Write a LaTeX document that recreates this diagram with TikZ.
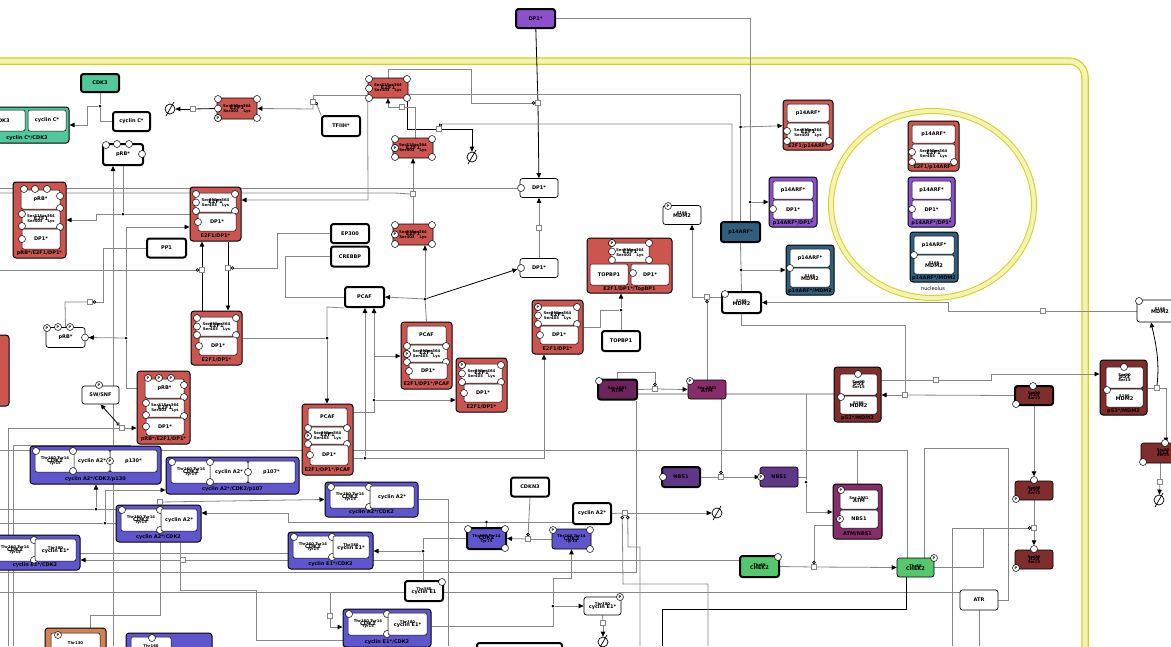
\documentclass[tikz,border=0pt]{standalone}
\usepackage{fontspec}
\setmainfont{DejaVu Sans}
\usetikzlibrary{arrows.meta}
\pgfdeclarelayer{comp}
\pgfdeclarelayer{bg}
\pgfsetlayers{comp,bg,main}
\definecolor{cred}{RGB}{205,85,80}
\definecolor{cgreen}{RGB}{80,200,155}
\definecolor{cpurple}{RGB}{140,80,205}
\definecolor{cblue}{RGB}{48,95,125}
\definecolor{cp53}{RGB}{128,45,45}
\definecolor{catm}{RGB}{135,45,105}
\definecolor{catmd}{RGB}{110,35,90}
\definecolor{cnbs}{RGB}{95,55,135}
\definecolor{ccyc}{RGB}{95,85,205}
\definecolor{cchek}{RGB}{85,200,110}
\definecolor{corange}{RGB}{210,130,85}
\definecolor{ydark}{RGB}{215,210,30}
\definecolor{ylight}{RGB}{245,243,180}
\definecolor{lgray}{RGB}{135,135,135}
\tikzset{
 every node/.style={font={\fontsize{5}{6}\selectfont\bfseries}},
 cplx/.style={draw=black, line width=1pt, rounded corners=3pt, inner sep=0pt},
 ibox/.style={draw=black, line width=0.5pt, fill=white, rounded corners=2pt, inner sep=0pt},
 mol/.style={draw=black, line width=0.7pt, fill=white, rounded corners=2.5pt, inner sep=0pt},
 molk/.style={mol, line width=2pt},
 sv/.style={circle, draw=black, line width=0.5pt, fill=white, minimum size=7pt, inner sep=0pt, font={\fontsize{3.5}{3.5}\selectfont\bfseries}},
 clab/.style={inner sep=0pt},
 proc/.style={draw=lgray, fill=white, minimum size=5pt, inner sep=0pt, line width=0.5pt},
 adot/.style={circle, fill=black, minimum size=3pt, inner sep=0pt},
 esym/.style={circle, draw=black, line width=0.7pt, minimum size=10pt, inner sep=0pt},
 ln/.style={draw=lgray, line width=0.8pt},
 lnk/.style={draw=black, line width=0.8pt},
 ar/.style={-{Triangle[length=5pt,width=4.5pt,color=black]}},
 cat/.style={-{Circle[open,length=3.5pt,width=3.5pt,color=black]}},
 swarr/.style={{Triangle[length=5pt,width=4.5pt]}-{Circle[open,length=3.5pt,width=3.5pt]}},
}
\newcommand{\Ttiny}[3]{\begin{tabular}{@{}c@{}}{\fontsize{3.8}{3.8}\selectfont #1}\\[-3.4pt]{\fontsize{5.2}{5.2}\selectfont #2}\\[-3.4pt]{\fontsize{3.8}{3.8}\selectfont #3}\end{tabular}}
\newcommand{\Ttwo}[2]{\begin{tabular}{@{}c@{}}{\fontsize{3.8}{3.8}\selectfont #1}\\[-3pt]{\fontsize{5}{5}\selectfont #2}\end{tabular}}
\newcommand{\Etext}{\Ttiny{Ser31Ser364}{E2F1}{Ser403\hspace{5pt}Lys}}
\newcommand{\Cx}[6]{\node[cplx, fill=#6, minimum width={(#4)-(#2)}, minimum height={(#5)-(#3)}] (#1) at ({((#2)+(#4))/2},{((#3)+(#5))/2}) {};}
\newcommand{\Bx}[6]{\node[ibox, minimum width={(#4)-(#2)}, minimum height={(#5)-(#3)}] (#1) at ({((#2)+(#4))/2},{((#3)+(#5))/2}) {#6};}
\newcommand{\SV}[3]{\node[sv] (#1) at ({#2},{#3}) {};}
\newcommand{\PV}[3]{\node[sv] (#1) at ({#2},{#3}) {P};}
\newcommand{\Lb}[4]{\node[clab] (#1) at ({#2},{#3}) {#4};}
\newcommand{\EmptyS}[3]{\node[esym] (#1) at (#2,#3) {};
 \draw[line width=0.7pt] ([shift={(-4,7)}]#1.center) -- ([shift={(4,-7)}]#1.center);}
\newcommand{\Ecirc}[5]{\SV{#1-a}{#2}{#3}\SV{#1-b}{#4}{#3}\SV{#1-c}{#2}{((#3)+(#5))/2}\SV{#1-d}{#2}{#5}\SV{#1-e}{#4}{#5}}
\newcommand{\EDC}[3]{%
 \Cx{#1}{#2}{#3}{#2+51}{#3+54}{cred}
 \Bx{#1e}{#2+5}{#3+6}{#2+46}{#3+25}{\Etext}
 \Ecirc{#1e}{#2+6}{#3+7}{#2+45}{#3+24}
 \Bx{#1d}{#2+8}{#3+26}{#2+46}{#3+44}{DP1*}
 \SV{#1ds}{#2+8}{#3+35}
 \Lb{#1l}{#2+25.5}{#3+49}{E2F1/DP1*}}
\newcommand{\EPC}[4]{%
 \Cx{#1}{#2}{#3}{#2+51}{#3+#4}{cred}
 \Bx{#1p}{#2+6}{#3+4}{#2+45}{#3+22}{PCAF}
 \Bx{#1e}{#2+5}{#3+23}{#2+46}{#3+40}{\Etext}
 \Ecirc{#1e}{#2+6}{#3+24}{#2+45}{#3+40}
 \PV{#1ep}{#2+6}{#3+32}
 \Bx{#1d}{#2+8}{#3+41}{#2+46}{#3+#4-10}{DP1*}
 \SV{#1ds}{#2+8}{#3+(#4+31)/2}
 \Lb{#1l}{#2+25.5}{#3+#4-5}{E2F1/DP1*/PCAF}}
\newcommand{\PEC}[5]{%
 \Cx{#1}{#2}{#3}{#2+53}{#3+#4}{cred}
 \Bx{#1r}{#2+8}{#3+8}{#2+47}{#3+27}{pRB*}
 \node[sv] (#1s1) at ({#2+11},{#3+7}) {#5};
 \node[sv] (#1s2) at ({#2+22},{#3+7}) {#5};
 \node[sv] (#1s3) at ({#2+34},{#3+7}) {#5};
 \SV{#1s4}{#2+47}{#3+14}\SV{#1s5}{#2+47}{#3+26}
 \Bx{#1e}{#2+9}{#3+28}{#2+47}{#3+46}{\Etext}
 \SV{#1s6}{#2+9}{#3+32}\SV{#1s7}{#2+9}{#3+44}\SV{#1s8}{#2+47}{#3+45}
 \Bx{#1d}{#2+9}{#3+47}{#2+47}{#3+#4-9}{DP1*}
 \SV{#1ds}{#2+9}{#3+(#4+38)/2}
 \Lb{#1l}{#2+26.5}{#3+#4-4.5}{pRB*/E2F1/DP1*}}
\newcommand{\PKC}[7]{%
 \Cx{#1}{#2}{#3}{#2+#4}{#3+50}{#5}
 \Bx{#1a}{#2+4}{#3+4}{#2+#4-4}{#3+22}{p14ARF*}
 \Bx{#1b}{#2+4}{#3+23}{#2+#4-4}{#3+42}{#6}
 \Lb{#1l}{#2+#4/2}{#3+46.5}{#7}}
\newcommand{\QC}[3]{%
 \Cx{#1}{#2}{#3}{#2+47}{#3+55}{cp53}
 \Bx{#1a}{#2+6}{#3+7}{#2+43}{#3+28}{\Ttiny{Ser20}{p53}{Ser15}}
 \SV{#1as}{#2+24}{#3+7}
 \Bx{#1b}{#2+6}{#3+29}{#2+43}{#3+47}{\Ttwo{S166}{MDM2}}
 \SV{#1bs}{#2+7}{#3+30}
 \Lb{#1l}{#2+23.5}{#3+51}{p53*/MDM2}}
\newcommand{\CYC}[7]{%
 \Cx{#1}{#2}{#3}{#4}{#5}{ccyc}
 \Bx{#1k}{#2+5}{#3+4}{#2+45}{#3+26}{\Ttiny{Thr160 Tyr14}{CDK2}{Tyr15}}
 \SV{#1ka}{#2+6}{#3+5}\SV{#1kb}{#2+44}{#3+5}\SV{#1kc}{#2+44}{#3+25}
 \Bx{#1c}{#2+45}{#3+4}{#4-4}{#3+26}{#6}
 \Lb{#1l}{((#2)+(#4))/2}{#5-5}{#7}}
\begin{document}
\begin{tikzpicture}[x=1pt,y=-1pt]
\useasboundingbox (0,0) rectangle (1171,646);
\begin{pgfonlayer}{comp}
\fill[white] (0,0) rectangle (1171,646);
\draw[ydark, line width=7.5pt, rounded corners=16pt] (-40,61) -- (1085,61) -- (1085,700);
\draw[ylight, line width=5pt, rounded corners=16pt] (-40,61) -- (1085,61) -- (1085,700);
\draw[ydark, line width=6pt] (932.5,204.5) ellipse [x radius=101.5, y radius=93.5];
\draw[ylight, line width=4pt] (932.5,204.5) ellipse [x radius=101.5, y radius=93.5];
\end{pgfonlayer}

% ---------- top left ----------
\node[molk, fill=cpurple, minimum width=39, minimum height=19] (dptop) at (535.5,18.5) {DP1*};
\node[molk, fill=cgreen, minimum width=38, minimum height=18] (cdk3) at (100,83) {CDK3};
\node[molk, minimum width=37, minimum height=19] (cycc) at (131.5,121.5) {cyclin C*};
\Cx{ccc}{-25}{107}{69}{143}{cgreen}
\Bx{ccck}{-21}{110}{25}{131}{CDK3}
\Bx{cccc}{28}{110}{66}{131}{cyclin C*}
\Lb{cccl}{27}{138.5}{cyclin C*/CDK3}
\EmptyS{es1}{170}{109}
\node[mol, fill=cred, minimum width=40, minimum height=21] (e2a) at (237,108.5) {\Etext};
\Ecirc{e2a}{218}{99}{257}{118}
\PV{e2ap}{218}{118}
\node[molk, minimum width=38, minimum height=20] (tfiih) at (341,126) {TFIIH*};
\node[molk, minimum width=40, minimum height=21] (prbt) at (123,154.5) {pRB*};
\SV{prbt1}{106}{145}\SV{prbt2}{117}{144}\SV{prbt3}{129}{144}\SV{prbt4}{142}{154}
\node[mol, fill=cred, minimum width=40, minimum height=20] (e2b) at (388,88) {\Etext};
\Ecirc{e2b}{369}{79}{407}{98}
\node[mol, fill=cred, minimum width=40, minimum height=20] (e2c) at (413,148) {\Etext};
\Ecirc{e2c}{395}{139}{432}{157}
\PV{e2cp}{395}{148}
\EmptyS{es2}{472}{157}
\node[mol, fill=cred, minimum width=40, minimum height=21] (e2d) at (413,234.5) {\Etext};
\Ecirc{e2d}{395}{225}{432}{244}
\PV{e2dp}{395}{234.5}
\node[mol, minimum width=38, minimum height=19] (dp1a) at (539,188) {DP1*};
\SV{dp1as}{521}{188}
\node[mol, minimum width=38, minimum height=19] (dp1b) at (539,268) {DP1*};
\SV{dp1bs}{521}{268}
\node[molk, minimum width=38, minimum height=19] (ep300) at (350,233.5) {EP300};
\node[molk, minimum width=38, minimum height=20] (crebbp) at (350,256.5) {CREBBP};
\node[molk, minimum width=39, minimum height=19] (pp1) at (166.5,248) {PP1};
\PEC{cPRB1}{13}{182}{76}{}
\EDC{cED1}{190}{187}

% ---------- top right ----------
\node[mol, minimum width=38, minimum height=19] (mdm2p) at (682,215) {\Ttwo{S166}{MDM2}};
\PV{mdm2pp}{668}{206}
\node[molk, fill=cblue, minimum width=39, minimum height=20] (p14) at (740.5,232) {p14ARF*};
\Cx{cTop}{587}{238}{672}{293}{cred}
\Bx{cTope}{611}{243}{649}{262}{\Etext}
\Ecirc{cTope}{612}{243}{649}{260}
\PV{cTopp}{612}{243}
\Bx{cTopt}{590}{264}{628}{285}{TOPBP1}
\Bx{cTopd}{631}{264}{669}{285}{DP1*}
\SV{cTopds}{633}{273}
\Lb{cTopl}{629.5}{289}{E2F1/DP1*/TopBP1}
\node[molk, minimum width=38, minimum height=20] (topbp1) at (621,341) {TOPBP1};
\PKC{cE2p14a}{783}{100}{50}{cred}{\Etext}{E2F1/p14ARF*}
\SV{cE2p14as1}{787}{131}\SV{cE2p14as2}{787}{141}\SV{cE2p14as3}{829}{141}
\PKC{cp14DP1a}{769}{177}{48}{cpurple}{DP1*}{p14ARF*/DP1*}
\SV{cp14DP1as}{773}{209}
\PKC{cp14MDMa}{786}{245}{48}{cblue}{\Ttwo{S166}{MDM2}}{p14ARF*/MDM2}
\SV{cp14MDMas}{790}{268}
\PKC{cE2p14b}{908}{121}{51}{cred}{\Etext}{E2F1/p14ARF*}
\SV{cE2p14bs1}{912}{152}\SV{cE2p14bs2}{912}{162}\SV{cE2p14bs3}{954}{162}
\PKC{cp14DP1b}{908}{177}{47}{cpurple}{DP1*}{p14ARF*/DP1*}
\SV{cp14DP1bs}{912}{209}
\PKC{cp14MDMb}{910}{232}{48}{cblue}{\Ttwo{S166}{MDM2}}{p14ARF*/MDM2}
\SV{cp14MDMbs}{914}{255}
\node[clab, font={\fontsize{5}{6}\selectfont}] (nucl) at (933,289) {nucleolus};
\node[molk, minimum width=39, minimum height=21] (mdm2t) at (741.5,302.5) {\Ttwo{S166}{MDM2}};
\SV{mdm2ts}{725}{294}
\node[mol, minimum width=46, minimum height=22] (mdm2r) at (1160,311) {\Ttwo{S166}{MDM2}};
\SV{mdm2rs}{1139}{301}

% ---------- middle ----------
\node[molk, minimum width=39, minimum height=20] (pcaf) at (364.5,297) {PCAF};
\node[mol, minimum width=39, minimum height=20] (prbP) at (65.5,337.5) {pRB*};
\PV{prbP1}{47}{328}\PV{prbP2}{58}{327}\PV{prbP3}{70}{327}\SV{prbP4}{85}{337.5}
\EDC{cED2}{191}{311}
\EPC{cEDP1}{401}{322}{67}
\EDC{cED3}{456}{358}
\PV{cED3p}{462}{365}
\EDC{cED4}{532}{300}
\PV{cED4p}{538}{307}
\node[mol, minimum width=37, minimum height=18] (swsnf) at (100.5,395) {SW/SNF};
\PV{swsnfp}{99}{385}
\PEC{cPRB2}{137}{371}{73}{P}
\EPC{cEDP2}{302}{404}{71}
\Cx{redl}{-20}{335}{9}{406}{cred}
\node[molk, fill=catmd, minimum width=39, minimum height=20] (atmL) at (617.5,389.5) {\Ttwo{Ser 1981}{ATM}};
\SV{atmLs}{599}{381}
\node[mol, fill=catm, minimum width=38, minimum height=19] (atmR) at (707,389.5) {\Ttwo{Ser 1981}{ATM}};
\PV{atmRp}{690}{381}
\QC{cp53a}{834}{367}
\QC{cp53b}{1100}{360}
\node[molk, fill=cp53, minimum width=38, minimum height=19] (p53t) at (1034,395.5) {\Ttiny{Ser20}{p53}{Ser15}};
\SV{p53ta}{1033}{386}\SV{p53tb}{1016}{404}
\node[mol, fill=cp53, minimum width=44, minimum height=20] (p53r) at (1163,453) {\Ttiny{Ser20}{p53}{Ser15}};
\SV{p53ra}{1165}{443}\SV{p53rb}{1143}{462}
\EmptyS{es3}{1159}{500}

% ---------- cyclins ----------
\Cx{cA2p130}{30}{446}{161}{484}{ccyc}
\Bx{cA2p130k}{35}{450}{75}{472}{\Ttiny{Thr160 Tyr14}{CDK2}{Tyr15}}
\Bx{cA2p130c}{74}{450}{110}{472}{cyclin A2*}
\Bx{cA2p130p}{110}{450}{157}{472}{p130*}
\SV{cA2p130s1}{36}{451}\SV{cA2p130s2}{73}{451}\SV{cA2p130s3}{73}{471}\PV{cA2p130s4}{110}{461}
\Lb{cA2p130l}{95.5}{479}{cyclin A2*/CDK2/p130}
\Cx{cA2p107}{166}{457}{299}{494}{ccyc}
\Bx{cA2p107k}{171}{461}{211}{483}{\Ttiny{Thr160 Tyr14}{CDK2}{Tyr15}}
\Bx{cA2p107c}{210}{461}{248}{483}{cyclin A2*}
\Bx{cA2p107p}{248}{461}{295}{483}{p107*}
\SV{cA2p107s1}{172}{462}\SV{cA2p107s2}{210}{462}\SV{cA2p107s3}{210}{482}\SV{cA2p107s4}{248}{472}
\Lb{cA2p107l}{232.5}{489}{cyclin A2*/CDK2/p107}
\CYC{cA2a}{116}{505}{201}{542}{cyclin A2*}{cyclin A2*/CDK2}
\CYC{cE1a}{-10}{535}{80}{570}{\Ttwo{Thr380}{cyclin E1*}}{cyclin E1*/CDK2}
\CYC{cA2b}{325}{482}{418}{517}{cyclin A2*}{cyclin A2*/CDK2}
\CYC{cE1b}{288}{532}{373}{569}{\Ttwo{Thr380}{cyclin E1*}}{cyclin E1*/CDK2}
\CYC{cE1c}{343}{609}{431}{647}{\Ttwo{Thr380}{cyclin E1*}}{cyclin E1*/CDK2}
\Cx{corg}{45}{628}{106}{660}{corange}
\Bx{corgb}{51}{633}{100}{656}{\Ttwo{Thr130}{}}
\PV{corgp}{58}{635}
\Cx{cpb}{126}{633}{212}{660}{ccyc}
\Bx{cpbb}{131}{637}{171}{658}{\Ttwo{Thr160}{}}
\SV{cpbs}{152}{638}
\node[molk, minimum width=38, minimum height=19] (cdkn3) at (530,487) {CDKN3};
\node[molk, minimum width=38, minimum height=21] (cycA2) at (592,513.5) {cyclin A2*};
\EmptyS{es4}{717}{513}
\node[molk, fill=ccyc, minimum width=39, minimum height=21] (cdk2a) at (486.5,538.5) {\Ttiny{Thr160 Tyr14}{CDK2}{Tyr15}};
\SV{cdk2as1}{468}{529}\SV{cdk2as2}{505}{529}\SV{cdk2as3}{505}{548}
\node[mol, fill=ccyc, minimum width=39, minimum height=20] (cdk2b) at (571.5,539) {\Ttiny{Thr160 Tyr14}{CDK2}{Tyr15}};
\PV{cdk2bp}{553}{530}\SV{cdk2bs1}{590}{530}\SV{cdk2bs2}{590}{549}
\node[molk, minimum width=38, minimum height=20] (cycE1) at (424,591) {\Ttwo{Thr380}{cyclin E1}};
\SV{cycE1s1}{442}{582}
\node[mol, minimum width=37, minimum height=18] (cycE1s) at (602.5,606) {\Ttwo{Thr380}{cyclin E1*}};
\PV{cycE1sp}{620}{597}
\EmptyS{es5}{603}{642}
\node[molk, minimum width=85, minimum height=24] (botn) at (519.5,655) {};

% ---------- right bottom ----------
\node[molk, fill=cnbs, minimum width=38, minimum height=20] (nbs1a) at (681,477) {NBS1};
\SV{nbs1as}{663}{477}
\node[mol, fill=cnbs, minimum width=38, minimum height=20] (nbs1b) at (779,477) {NBS1};
\PV{nbs1bp}{761}{477}
\Cx{cATMNBS}{833}{484}{882}{539}{catm}
\Bx{cATMNBSa}{840}{490}{878}{509}{\Ttwo{Ser 1981}{ATM}}
\PV{cATMNBSp1}{841}{490}
\Bx{cATMNBSb}{840}{510}{878}{528}{NBS1}
\PV{cATMNBSp2}{840}{519}
\Lb{cATMNBSl}{857.5}{534}{ATM/NBS1}
\node[molk, fill=cchek, minimum width=39, minimum height=21] (chek2a) at (759.5,566.5) {\Ttwo{Thr68}{CHEK2}};
\SV{chek2as}{778}{557}
\node[mol, fill=cchek, minimum width=37, minimum height=19] (chek2b) at (915.5,567.5) {\Ttwo{Thr68}{CHEK2}};
\PV{chek2bp}{934}{558}
\node[mol, minimum width=38, minimum height=20] (atr) at (979,600) {ATR};
\node[mol, fill=cp53, minimum width=38, minimum height=19] (p53c) at (1034,490.5) {\Ttiny{Ser20}{p53}{Ser15}};
\SV{p53cs}{1034}{480}\PV{p53cp}{1016}{499}
\node[mol, fill=cp53, minimum width=38, minimum height=19] (p53d) at (1034,559.5) {\Ttiny{Ser20}{p53}{Ser15}};
\SV{p53ds}{1034}{549}\PV{p53dp}{1016}{568}

% ---------- process nodes and association dots ----------
\node[proc] (pA) at (538,103) {};
\node[proc] (pB) at (402,107) {};
\node[proc] (pC) at (413,194) {};
\node[proc] (pD) at (439,129) {};
\node[proc] (pE) at (539,228) {};
\node[proc] (pF) at (193,109) {};
\node[proc] (pG) at (313,102) {};
\node[proc] (pH) at (122,428) {};
\node[proc] (pI) at (202,270) {};
\node[proc] (pJ) at (228,268) {};
\node[proc] (pK) at (707,297) {};
\node[proc] (pL) at (1043,311) {};
\node[proc] (pM) at (1157,388) {};
\node[proc] (pN) at (936,380) {};
\node[proc] (pO) at (905,395) {};
\node[proc] (pP) at (655,389) {};
\node[proc] (pQ) at (721,477) {};
\node[proc] (pR) at (814,567) {};
\node[proc] (pS) at (1034,528) {};
\node[proc] (pT) at (1160,482) {};
\node[proc] (pU) at (528,539) {};
\node[proc] (pV) at (625,513) {};
\node[proc] (pW) at (603,623) {};
\node[proc] (pX) at (160,502) {};
\node[proc] (pY) at (183,560) {};
\node[proc] (pZ) at (330,616) {};
\node[proc] (pAA) at (90,302) {};
\node[adot] (a1) at (740.5,127) {};
\node[adot] (a2) at (750,202) {};
\node[adot] (a3) at (741,270) {};
\node[adot] (dC) at (100,106) {};
\node[adot] (dR) at (123,214) {};
\node[adot] (dS) at (126,338) {};
\node[adot] (dP) at (425,299) {};
\node[adot] (dT) at (327,338) {};
\node[adot] (dU) at (374,400) {};
\node[adot] (dV) at (365,458) {};
\node[adot] (dW) at (621,310) {};
\node[adot] (dX) at (806,482) {};
\node[adot] (dY) at (553,606) {};
\node[adot] (dZ) at (486.5,522) {};
\node[adot] (dAA) at (423,551) {};
\node[adot] (dAB) at (96,509) {};
\node[adot] (dAC) at (105,523) {};

% ---------- connectors ----------
\begin{pgfonlayer}{bg}
\draw[lnk] (dptop) -- (pA);
\draw[lnk,ar] (pA) -- (dp1a);
\draw[ln,cat] (e2b.north) -- (388,69) -- (471,69) -- (471,103) -- (pA.west);
\draw[ln] (dptop.east) -- (750,18.5) -- (a2) -- (p14.north -| a2);
\draw[ln] (e2b.east |- 0,94) -- (740.5,94) -- (a1) -- (p14.north);
\draw[ln,ar] (a1) -- (cE2p14a);
\draw[ln,ar] (a2) -- (cp14DP1a);
\draw[ln] (p14.south) -- (a3) -- (mdm2t.north);
\draw[ln,ar] (a3) -- (cp14MDMa);
\draw[ln,cat] (p14.north -| 732,0) -- (732,124) -- (442,124) -- (pD.north);
\draw[lnk] (e2b.south -| 407,0) -- (407,129) -- (pD);
\draw[lnk,ar] (pD) -- (472,129) -- (es2);
\draw[ln] (e2c.north -| 415,0) -- (415,107) -- (pB);
\draw[ln,ar] (pB) -- (388,107) -- (e2b.south);
\draw[ln] (e2d) -- (pC);
\draw[ln,ar] (pC) -- (e2c);
\draw[ln] (0,188) -- (dp1as);
\draw[ln] (0,193) -- (395,193) -- (pC.west);
\draw[ln,ar] (e2b.south west) -- (368,200) -- (cED1.east |- 0,200);
\draw[ln] (dp1b) -- (pE);
\draw[ln,ar] (pE) -- (dp1a);
\draw[ln] (cEDP1.north) -- (dP);
\draw[lnk,ar] (dP) -- (dp1bs);
\draw[ln,ar] (dP) -- (pcaf.east);
\draw[ln,ar] (dP) -- (e2d.south -| dP);
\draw[ln] (cdk3) -- (dC);
\draw[ln] (dC) -- (100,121.5) -- (cycc.west);
\draw[ln,ar] (dC) -- (87,106) -- (87,125) -- (ccc.east);
\draw[lnk] (e2a.west) -- (pF);
\draw[lnk,ar] (pF) -- (es1);
\draw[ln] (e2b.west |- 0,95) -- (313,95) -- (pG);
\draw[ln,ar] (pG) -- (313,109) -- (e2a.east);
\draw[ln,cat] (tfiih.north west) -- (pG.east);
\draw[ln] (prbt.south) -- (dR);
\draw[ln,ar] (dR) -- (96,214) -- (96,220) -- (cPRB1.east);
\draw[ln] (dR) -- (cED1.west);
\draw[ln,ar] (113,646) -- (prbt.south -| 113,0);
\draw[ln,cat] (pp1.west) -- (103,248) -- (103,302) -- (pAA.east);
\draw[ln] (prbP.north) -- (65,302) -- (pAA);
\draw[ln] (cPRB2.west |- 0,388) -- (126,388) -- (dS);
\draw[ln,ar] (dS) -- (126,227) -- (cED1.west |- 0,227);
\draw[ln,ar] (dS) -- (prbP4);
\draw[ln,ar] (pH) -- (cPRB2.west |- pH);
\draw[lnk,swarr] (swsnf.south) -- (pH.north west);
\draw[ln] (8,646) -- (8,428) -- (pH);
\draw[ln] (13,646) -- (13,445) -- (130,445) -- (130,470);
\draw[lnk,ar] (pI) -- (pI |- cED1.south);
\draw[lnk] (pI) -- (pI |- cED2.north);
\draw[ln,cat] (0,270) -- (pI.west);
\draw[lnk] (pJ |- cED1.south) -- (pJ);
\draw[lnk,ar] (pJ) -- (pJ |- cED2.north);
\draw[ln,cat] (ep300.west) -- (277,233.5) -- (277,268) -- (pJ.east);
\draw[ln] (crebbp.west) -- (285,256.5) -- (285,297) -- (pcaf.west);
\draw[ln] (cED2.east) -- (dT);
\draw[ln] (pcaf.south west) -- (327,307) -- (dT);
\draw[ln,ar] (dT) -- (dT |- cEDP2.north);
\draw[ln] (cEDP2.east |- 0,412) -- (374,412) -- (dU);
\draw[ln,ar] (dU) -- (pcaf.south -| dU);
\draw[ln,ar] (dU) -- (cED3.west |- dU);
\draw[ln,ar] (374,356) -- (cEDP1.west |- 0,356);
\draw[ln] (cEDP2.east |- dV) -- (dV);
\draw[ln,ar] (dV) -- (pcaf.south -| dV);
\draw[ln,ar] (dV) -- (544,458) -- (cED4.south -| 544,0);
\draw[ln] (cED4.east |- 0,327) -- (600,327) -- (600,310) -- (dW);
\draw[ln] (topbp1) -- (dW);
\draw[ln,ar] (dW) -- (cTop.south -| dW);
\draw[ln] (mdm2t.west |- pK) -- (pK);
\draw[ln,ar] (pK) -- (692,297) -- (mdm2p.south -| 692,0);
\draw[ln,cat] (atmR.north) -- (pK.south);
\draw[ln] (mdm2r.west) -- (pL);
\draw[ln,ar] (pL) -- (948,311) -- (948,302.5) -- (mdm2t.east);
\draw[ln] (cp53b.east |- pM) -- (pM);
\draw[lnk,ar] (pM.north) .. controls (1160,360) and (1155,340) .. (mdm2r.south -| 1151,0);
\draw[ln,ar] (pM.east) -- (1166,388) -- (p53r.north -| 1166,0);
\draw[ln] (cp53a.east |- pN) -- (pN);
\draw[ln,ar] (pN) -- (991,380) -- (991,374) -- (cp53b.west |- 0,374);
\draw[ln] (p53t.west) -- (pO);
\draw[ln,ar] (pO) -- (cp53a.east |- pO);
\draw[ln] (mdm2t.south) -- (741.5,325) -- (905,325) -- (pO);
\draw[draw=gray!50, line width=1.6pt] (atmL.east |- 0,394) -- (cp53a.west |- 0,394);
\draw[ln] (atmL.east) -- (pP);
\draw[ln,ar] (pP) -- (atmR.west);
\draw[ln,cat] (atmL.north) -- (617.5,372) -- (655,372) -- (pP.north);
\draw[ln] (0,572) -- (636,572) -- (atmL.south -| 636,0);
\draw[ln,cat] (atmR.south -| 721,0) -- (pQ.north);
\draw[ln] (nbs1a.east) -- (pQ);
\draw[ln,ar] (pQ) -- (nbs1b.west);
\draw[ln] (nbs1b.east) -- (806,477) -- (dX);
\draw[ln,ar] (dX) -- (806,512) -- (cATMNBS.west |- 0,512);
\draw[ln] (806,394) -- (dX);
\draw[ln] (0,450) -- (907,450) -- (chek2b.north -| 907,0);
\draw[ln] (cATMNBS.north) -- (857.5,450);
\draw[ln] (chek2b.north -| 924,0) -- (924,448) -- (1008,448) -- (1008,600) -- (atr.east);
\draw[ln] (chek2a.east) -- (pR);
\draw[ln,ar] (pR) -- (chek2b.west);
\draw[ln,cat] (cATMNBS.west |- 0,525) -- (814,525) -- (pR.north);
\draw[ln] (p53c.south) -- (pS);
\draw[ln,ar] (pS) -- (p53ds);
\draw[ln,cat] (chek2b.east) -- (983,567.5) -- (983,528) -- (pS.west);
\draw[ln] (952,646) -- (952,528) -- (983,528);
\draw[ln,ar] (p53t.south) -- (p53cs);
\draw[ln] (atr.south) -- (979,646);
\draw[ln] (0,592) -- (atr.west |- 0,592);
\draw[lnk] (chek2b.south -| 906,0) -- (906,609) -- (662,609) -- (662,646);
\draw[ln] (p53r.south -| 1160,0) -- (pT);
\draw[ln,ar] (pT) -- (es3);
\draw[ln] (cdk2b.west) -- (pU);
\draw[ln,ar] (pU) -- (cdk2a.east);
\draw[ln,cat] (cdkn3.south) -- (pU.north);
\draw[ln] (cycA2.east) -- (pV);
\draw[ln,ar] (pV) -- (es4);
\draw[ln,cat] (708,646) -- (708,584) -- (623,584) -- (pV.south west);
\draw[ln,cat] (640,646) -- (640,547) -- (628,547) -- (pV.south east);
\draw[ln] (cE1c.east |- 0,626) -- (553,626) -- (dY);
\draw[ln,ar] (dY) -- (553,578) -- (571.5,578) -- (cdk2b.south);
\draw[ln,ar] (dY) -- (cycE1s.west);
\draw[ln] (cycE1s.south) -- (pW);
\draw[ln,ar] (pW) -- (es5);
\draw[ln] (cdk2a.north) -- (dZ);
\draw[ln] (dZ) -- (cycA2.west |- dZ);
\draw[ln,ar] (dZ) -- (288,522) -- (288,513) -- (cA2a.east |- 0,513);
\draw[ln] (cdk2a.west) -- (423,538.5) -- (dAA);
\draw[ln] (cycE1.north -| 423,0) -- (dAA);
\draw[ln,ar] (dAA) -- (cE1b.east |- dAA);
\draw[ln] (0,509) -- (dAB) -- (cA2a.west |- dAB);
\draw[ln,ar] (dAB) -- (cA2p130.south -| dAB);
\draw[ln] (0,523) -- (dAC) -- (cA2a.west |- dAC);
\draw[ln,ar] (dAC) -- (105,490) -- (cA2p107.west |- 0,490);
\draw[ln] (pX) -- (160,615) -- (90,615) -- (corg.north -| 90,0);
\draw[ln,ar] (pX) -- (cA2b.west);
\draw[ln,ar] (pY) -- (cE1a.east |- pY);
\draw[ln] (pY) -- (chek2a.west |- pY);
\draw[ln,ar] (pZ) -- (330,627) -- (cE1c.west |- 0,627);
\draw[ln] (pZ) -- (330,592);
\draw[ln] (cA2b.east) -- (448,499.5) -- (448,646);
\draw[ln] (0,553) -- (cE1b.west |- 0,553);
\draw[ln] (cA2a.south -| 180,0) -- (180,590) -- (256,590) -- (256,640) -- (cE1c.west |- 0,640);
\end{pgfonlayer}
\end{tikzpicture}
\end{document}
